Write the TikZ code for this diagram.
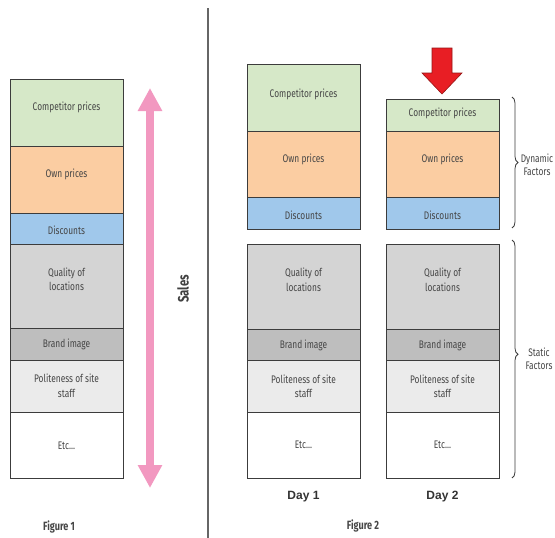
\documentclass[tikz,border=0pt]{standalone}
\usepackage{fontspec}
\setmainfont{Liberation Sans}
\newfontfamily\condfont[FakeStretch=0.76]{Fira Sans}
\usetikzlibrary{arrows.meta,decorations.pathreplacing}
\definecolor{cgreen}{RGB}{214,232,200}
\definecolor{corange}{RGB}{251,205,162}
\definecolor{cblue}{RGB}{160,200,235}
\definecolor{cqual}{RGB}{212,212,212}
\definecolor{cbrand}{RGB}{190,190,190}
\definecolor{cpol}{RGB}{235,235,235}
\definecolor{cedge}{RGB}{60,60,60}
\definecolor{ctext}{RGB}{70,70,70}
\definecolor{cpink}{RGB}{242,152,192}
\definecolor{cred}{RGB}{232,30,36}
\definecolor{cdred}{RGB}{150,20,20}
\begin{document}
\begin{tikzpicture}[x=1pt,y=-1pt,
  box/.style={draw=cedge, line width=0.9pt, rectangle, anchor=north west, minimum width=113pt, inner sep=0pt},
  txt/.style={font=\condfont\fontsize{11}{14.5}\selectfont, text=ctext, align=center, inner sep=0pt},
  figlab/.style={font=\condfont\bfseries\fontsize{12}{14}\selectfont, text=ctext, inner sep=0pt},
  daylab/.style={font=\bfseries\fontsize{12}{14}\selectfont, text=black!80, inner sep=0pt},
  brc/.style={draw=cedge, line width=0.8pt, decorate, decoration={brace, amplitude=6pt}},
  sidetxt/.style={font=\condfont\fontsize{11}{13}\selectfont, text=ctext, align=center, inner sep=0pt}]
\useasboundingbox (0,0) rectangle (555,538);
\fill[white] (0,0) rectangle (555,538);

% separator
\coordinate (sepT) at (208,8);
\coordinate (sepB) at (208,538);
\draw[line width=1.2pt, black!60] (sepT) -- (sepB);

% ---------- Figure 1 ----------
\node[box, fill=cgreen,  minimum height=67pt] (a1) at (10,79) {};
\node[box, fill=corange, minimum height=67pt] (a2) at (10,146) {};
\node[box, fill=cblue,   minimum height=31pt] (a3) at (10,213) {};
\node[box, fill=cqual,   minimum height=84pt] (a4) at (10,244) {};
\node[box, fill=cbrand,  minimum height=32pt] (a5) at (10,328) {};
\node[box, fill=cpol,    minimum height=52pt] (a6) at (10,360) {};
\node[box, fill=white,   minimum height=66pt] (a7) at (10,412) {};
\node[txt] at (66.5,107) {Competitor prices};
\node[txt] at (66.5,174) {Own prices};
\node[txt] at (66.5,230) {Discounts};
\node[txt] at (66.5,279.5) {Quality of\\locations};
\node[txt] at (66.5,344) {Brand image};
\node[txt] at (66.5,386) {Politeness of site\\staff};
\node[txt] at (66.5,446) {Etc...};
\node[figlab] (fig1) at (59,527) {Figure 1};

% sales arrow
\coordinate (sT) at (150,88);
\coordinate (sB) at (150,488);
\draw[line width=8pt, cpink, {Triangle[width=23pt,length=23pt]}-{Triangle[width=23pt,length=23pt]}] (sT) -- (sB);
\node[font=\condfont\bfseries\fontsize{15}{17}\selectfont, text=black!75, rotate=90, inner sep=0pt] (sales) at (183,289) {Sales};

% ---------- Day 1 ----------
\node[box, fill=cgreen,  minimum height=67pt] (b1) at (247,64) {};
\node[box, fill=corange, minimum height=66pt] (b2) at (247,131) {};
\node[box, fill=cblue,   minimum height=32pt] (b3) at (247,197) {};
\node[box, fill=cqual,   minimum height=85pt] (b4) at (247,244) {};
\node[box, fill=cbrand,  minimum height=31pt] (b5) at (247,329) {};
\node[box, fill=cpol,    minimum height=52pt] (b6) at (247,360) {};
\node[box, fill=white,   minimum height=66pt] (b7) at (247,412) {};
\node[txt] at (303.5,94) {Competitor prices};
\node[txt] at (303.5,159) {Own prices};
\node[txt] at (303.5,215) {Discounts};
\node[txt] at (303.5,280) {Quality of\\locations};
\node[txt] at (303.5,345) {Brand image};
\node[txt] at (303.5,386.5) {Politeness of site\\staff};
\node[txt] at (303.5,445) {Etc...};
\node[daylab] (d1) at (303.5,497) {Day 1};

% ---------- Day 2 ----------
\node[box, fill=cgreen,  minimum height=32pt] (c1) at (386,99) {};
\node[box, fill=corange, minimum height=66pt] (c2) at (386,131) {};
\node[box, fill=cblue,   minimum height=32pt] (c3) at (386,197) {};
\node[box, fill=cqual,   minimum height=85pt] (c4) at (386,244) {};
\node[box, fill=cbrand,  minimum height=31pt] (c5) at (386,329) {};
\node[box, fill=cpol,    minimum height=52pt] (c6) at (386,360) {};
\node[box, fill=white,   minimum height=66pt] (c7) at (386,412) {};
\node[txt] at (442.5,113) {Competitor prices};
\node[txt] at (442.5,159) {Own prices};
\node[txt] at (442.5,215) {Discounts};
\node[txt] at (442.5,280) {Quality of\\locations};
\node[txt] at (442.5,345) {Brand image};
\node[txt] at (442.5,386.5) {Politeness of site\\staff};
\node[txt] at (442.5,445) {Etc...};
\node[daylab] (d2) at (442.5,497) {Day 2};

\node[figlab] (fig2) at (363,526) {Figure 2};

% red arrow
\fill[cred, draw=cdred, line width=0.6pt] (432,48) -- (452,48) -- (452,73) -- (462,73) -- (442,94) -- (422,73) -- (432,73) -- cycle;

% braces
\coordinate (dT) at (512,97);
\coordinate (dB) at (512,228);
\draw[brc] (dT) -- (dB);
\node[sidetxt] (dyn) at (537,164.5) {Dynamic\\Factors};
\coordinate (stT) at (512,240);
\coordinate (stB) at (512,478);
\draw[brc, decoration={brace, amplitude=6pt, aspect=0.48}] (stT) -- (stB);
\node[sidetxt] (stat) at (539,358.5) {Static\\Factors};
\end{tikzpicture}
\end{document}
